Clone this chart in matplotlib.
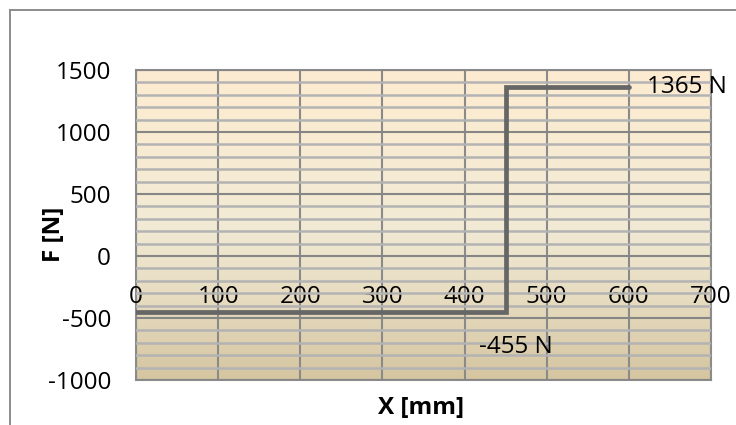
import numpy as np
import matplotlib
matplotlib.use("Agg")
import matplotlib.pyplot as plt
from matplotlib.colors import LinearSegmentedColormap
from matplotlib.patches import Rectangle
from matplotlib.ticker import MultipleLocator

# shear force along the beam
x_mm = [0, 450, 450, 600]
force_n = [-455, -455, 1365, 1365]

x_ticks = [0, 100, 200, 300, 400, 500, 600, 700]
y_ticks = [-1000, -500, 0, 500, 1000, 1500]

label_texts = ["1365 N", "-455 N"]
label_x = [622, 418]
label_y = [1365, -732]

plt.rcParams["font.family"] = ["Open Sans", "DejaVu Sans"]
plt.rcParams["axes.unicode_minus"] = False
FS = 17.5

W, H = 736, 425
fig = plt.figure(figsize=(W / 100, H / 100), dpi=100)
ax = fig.add_axes([136 / W, (H - 380) / H, (711 - 136) / W, (380 - 70) / H])

# outer chart frame (runs off the right/bottom edge like the original crop)
fig.add_artist(Rectangle((10 / W, -0.1), 2.0, (H - 10) / H + 0.1,
                         transform=fig.transFigure, fill=False,
                         edgecolor="#8c8c8c", linewidth=1.4))

# plot-area gradient: light peach at top to tan at bottom
cmap = LinearSegmentedColormap.from_list(
    "excel", ["#d5c5a0", "#e6dbbf", "#f2ead5", "#f8ebd2", "#fdecd1"])
grad = np.linspace(0, 1, 256).reshape(-1, 1)
ax.imshow(grad, extent=[0, 700, -1000, 1500], origin="lower", aspect="auto",
          cmap=cmap, zorder=0, interpolation="bicubic")

ax.set_xlim(0, 700)
ax.set_ylim(-1000, 1500)
ax.set_yticks(y_ticks)
ax.set_xticks(x_ticks)
ax.yaxis.set_minor_locator(MultipleLocator(100))

ax.grid(which="minor", axis="y", color="#b3b3b3", linewidth=1.8, zorder=1)
ax.grid(which="major", axis="y", color="#868686", linewidth=1.5, zorder=1)
ax.grid(which="major", axis="x", color="#8a8a8a", linewidth=1.5, zorder=1)
ax.set_axisbelow(False)

for name, sp in ax.spines.items():
    sp.set_color("#8c8c8c")
    sp.set_linewidth(1.5)
ax.spines["bottom"].set_visible(False)
ax.plot([0, 700], [-1000, -1000], color="#8c8c8c", linewidth=1.5,
        clip_on=False, zorder=2)

# x labels sit under the zero line
ax.xaxis.set_ticks_position("bottom")
ax.spines["bottom"].set_position(("data", 0))
ax.tick_params(axis="x", which="both", length=0, pad=21, labelsize=FS)
ax.tick_params(axis="y", which="both", length=0, pad=18, labelsize=FS)

ax.plot(x_mm, force_n, color="#666666", linewidth=3.4,
        solid_capstyle="round", solid_joinstyle="miter", zorder=3)

for txt, tx, ty in zip(label_texts, label_x, label_y):
    ax.text(tx, ty, txt, fontsize=FS, ha="left", va="center", zorder=4,
            clip_on=False)

fig.text(421 / W, 1 - 408 / H, "X [mm]", fontsize=FS, fontweight="bold",
         ha="center", va="center")
fig.text(54 / W, 1 - 234 / H, "F [N]", fontsize=FS, fontweight="bold",
         ha="center", va="center", rotation=90)

fig.savefig("out.png", dpi=100)
